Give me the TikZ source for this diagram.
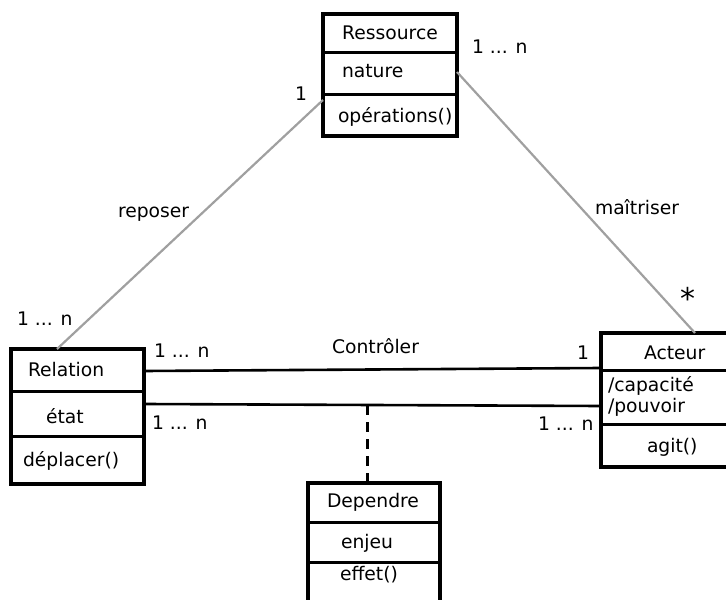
\documentclass[tikz,border=0pt]{standalone}
\usepackage{fontspec}
\setmainfont{DejaVu Sans}
\begin{document}
\begin{tikzpicture}[x=0.5bp,y=-0.5bp,
  every node/.style={font=\fontsize{9.4}{11}\selectfont, inner sep=0pt, outer sep=0pt},
  box/.style={draw, line width=1.6bp, rectangle, anchor=north west},
  sep/.style={line width=1.5bp},
  txt/.style={anchor=base west},
  ctxt/.style={anchor=base},
  assoc/.style={line width=1.3bp},
  link/.style={line width=1.1bp, draw={rgb,255:red,160;green,160;blue,160}},
  dep/.style={line width=1.5bp, dash pattern=on 5bp off 3.5bp}]
\useasboundingbox (0,0) rectangle (726,600);
\clip (0,0) rectangle (726,600);

% Ressource
\node[box, minimum width=67bp, minimum height=61bp] (res) at (323,14) {};
\draw[sep] (323,53) -- (457,53);
\draw[sep] (323,95) -- (457,95);
\node[ctxt] (resT) at (390,40) {Ressource};
\node[txt] (resA) at (342,78) {nature};
\node[txt] (resO) at (338,123) {opérations()};

% Relation
\node[box, minimum width=66.5bp, minimum height=67.5bp] (rel) at (11,349) {};
\draw[sep] (11,391) -- (144,391);
\draw[sep] (11,436) -- (144,436);
\node[txt] (relT) at (28,376) {Relation};
\node[txt] (relA) at (46,423) {état};
\node[txt] (relO) at (23,466) {déplacer()};

% Acteur
\node[box, minimum width=65bp, minimum height=67bp] (act) at (601,333) {};
\draw[sep] (601,370) -- (732,370);
\draw[sep] (601,424) -- (732,424);
\node[txt] (actT) at (644,359) {Acteur};
\node[txt] (actA) at (608,391) {/capacité};
\node[txt] (actB) at (608,412) {/pouvoir};
\node[txt] (actO) at (647,452) {agit()};

% Dependre
\node[box, minimum width=66bp, minimum height=64bp] (dep) at (308,483) {};
\draw[sep] (308,522) -- (440,522);
\draw[sep] (308,562) -- (440,562);
\node[ctxt] (depT) at (373,507) {Dependre};
\node[txt] (depA) at (341,548) {enjeu};
\node[txt] (depO) at (340,580) {effet()};

% connection points
\coordinate (resL) at (323,100);
\coordinate (resR) at (457,72);
\coordinate (relTop) at (57,349);
\coordinate (actTop) at (695,333);
\coordinate (relC1) at (145,371);
\coordinate (actC1) at (600,368);
\coordinate (relC2) at (145,404);
\coordinate (actC2) at (600,406);
\coordinate (mid) at (367,405);
\coordinate (depTop) at (367,483);

% connectors
\draw[link] (resL) -- (relTop);
\draw[link] (resR) -- (actTop);
\draw[assoc] (relC1) -- (actC1);
\draw[assoc] (relC2) -- (actC2);
\draw[dep] (mid) -- (depTop);

% labels
\node[txt] (m1) at (472,54) {1 ... n};
\node[txt] (m2) at (295,101) {1};
\node[txt] (m3) at (17,325) {1 ... n};
\node[txt] (m4) at (154,357) {1 ... n};
\node[txt] (m5) at (152,429) {1 ... n};
\node[txt] (m6) at (577,359) {1};
\node[txt] (m7) at (538,430) {1 ... n};
\node[font=\fontsize{15}{15}\selectfont] (m8) at (688,298) {*};
\node[txt] (l1) at (118,218) {reposer};
\node[txt] (l2) at (595,215) {maîtriser};
\node[txt] (l3) at (332,353) {Contrôler};
\end{tikzpicture}
\end{document}
